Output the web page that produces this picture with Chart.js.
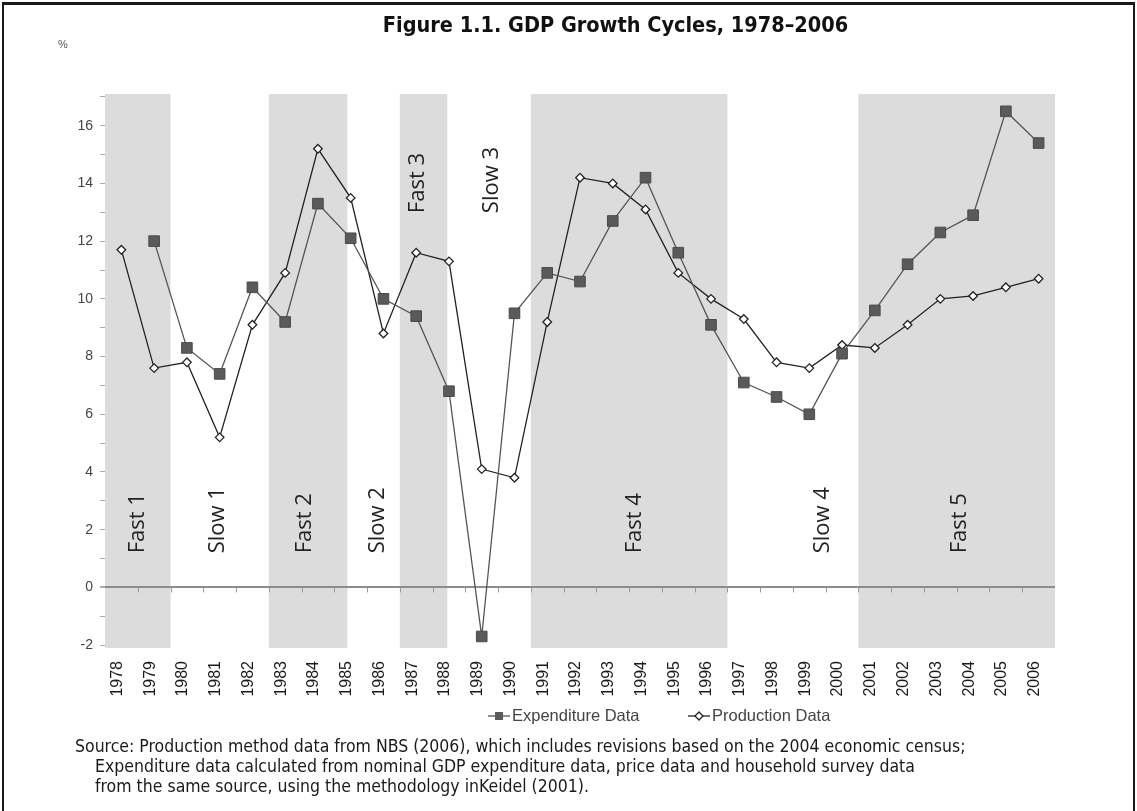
<!DOCTYPE html>
<html>
<head>
<meta charset="utf-8">
<script src="https://cdn.jsdelivr.net/npm/chart.js@4.4.1/dist/chart.umd.min.js"></script>
<style>
  body { margin: 0; background: #fff; width: 1137px; height: 811px; overflow: hidden; position: relative;
         font-family: "Liberation Sans Narrow", "DejaVu Sans Condensed", sans-serif; }
  #frame { position: absolute; left: 2px; top: 2px; width: 1129px; height: 900px;
           border: solid #1a1a1a; border-width: 3px 2px 0 2px; }
  #title { position: absolute; left: 47px; width: 1137px; top: 12px; text-align: center;
           font-weight: bold; font-size: 21.5px; color: #111; }
  #pct { position: absolute; left: 58px; top: 38px; font-size: 11px; color: #555;
         font-family: "Liberation Sans", sans-serif; }
  #chart { position: absolute; left: 0; top: 0; }
  #legend { position: absolute; top: 706px; left: 0; width: 1137px; height: 22px;
            font-family: "Liberation Sans", sans-serif; font-size: 16.5px; color: #444; }
  #legend .item { position: absolute; top: 0; white-space: nowrap; }
  #legend canvas { vertical-align: -1px; margin-right: 2px; }
  #source { position: absolute; left: 75px; top: 736px; font-size: 17.5px; line-height: 20px; color: #1a1a1a; white-space: nowrap; }
  #source .ind { padding-left: 20px; }
</style>
</head>
<body>
<div id="frame"></div>
<canvas id="chart" width="1137" height="811"></canvas>
<div id="title">Figure 1.1. GDP Growth Cycles, 1978–2006</div>
<div id="pct">%</div>
<div id="legend"></div>
<div id="source">
  <div>Source: Production method data from NBS (2006), which includes revisions based on the 2004 economic census;</div>
  <div class="ind">Expenditure data calculated from nominal GDP expenditure data, price data and household survey data</div>
  <div class="ind">from the same source, using the methodology inKeidel (2001).</div>
</div>
<script>
const years = ['1978', '1979', '1980', '1981', '1982', '1983', '1984', '1985', '1986', '1987',
  '1988', '1989', '1990', '1991', '1992', '1993', '1994', '1995', '1996', '1997',
  '1998', '1999', '2000', '2001', '2002', '2003', '2004', '2005', '2006'];

const expenditure = [null, 12.0, 8.3, 7.4, 10.4, 9.2, 13.3, 12.1, 10.0, 9.4,
  6.8, -1.7, 9.5, 10.9, 10.6, 12.7, 14.2, 11.6, 9.1, 7.1,
  6.6, 6.0, 8.1, 9.6, 11.2, 12.3, 12.9, 16.5, 15.4];

const production = [11.7, 7.6, 7.8, 5.2, 9.1, 10.9, 15.2, 13.5, 8.8, 11.6,
  11.3, 4.1, 3.8, 9.2, 14.2, 14.0, 13.1, 10.9, 10.0, 9.3,
  7.8, 7.6, 8.4, 8.3, 9.1, 10.0, 10.1, 10.4, 10.7];

// growth phases, in category units (shaded = fast)
const shadeFrom = [-0.5, 4.5, 8.5, 12.5, 22.5];
const shadeTo = [1.5, 6.9, 9.95, 18.5, 28.5];
const phaseNames = ['Fast 1', 'Slow 1', 'Fast 2', 'Slow 2', 'Fast 3', 'Slow 3', 'Fast 4', 'Slow 4', 'Fast 5'];
const phaseX = [0.5, 2.93, 5.61, 7.84, 9.06, 11.32, 15.68, 21.42, 25.6];
const phaseY = [1.18, 1.18, 1.18, 1.18, 12.97, 12.97, 1.18, 1.18, 1.18];

function legendIcon(style) {
  const c = document.createElement('canvas');
  c.width = 22; c.height = 12;
  const g = c.getContext('2d');
  g.strokeStyle = style === 'rect' ? '#555' : '#222';
  g.lineWidth = 1.3;
  g.beginPath(); g.moveTo(0, 6); g.lineTo(22, 6); g.stroke();
  if (style === 'rect') {
    g.fillStyle = '#5a5a5a';
    g.fillRect(7, 2, 8, 8);
  } else {
    g.fillStyle = '#fff';
    g.beginPath(); g.moveTo(11, 2); g.lineTo(15, 6); g.lineTo(11, 10); g.lineTo(7, 6); g.closePath();
    g.fill(); g.stroke();
  }
  return c;
}

const phases = {
  id: 'phases',
  beforeDraw(chart) {
    const {ctx, chartArea: a, scales: {x, y}} = chart;
    ctx.save();
    ctx.fillStyle = '#dcdcdc';
    shadeFrom.forEach((f, k) => {
      const l = x.getPixelForValue(f), r = x.getPixelForValue(shadeTo[k]);
      ctx.fillRect(l, a.top, r - l, a.bottom - a.top);
    });
    ctx.font = '22px "Open Sans"';
    ctx.fillStyle = '#222';
    ctx.textAlign = 'left';
    ctx.textBaseline = 'middle';
    phaseNames.forEach((t, k) => {
      ctx.save();
      ctx.translate(x.getPixelForValue(phaseX[k]), y.getPixelForValue(phaseY[k]));
      ctx.rotate(-Math.PI / 2);
      ctx.fillText(t, 0, 0);
      ctx.restore();
    });
    ctx.restore();
  },
  beforeDatasetsDraw(chart) {
    // small tick marks hanging under the zero line
    const {ctx, scales: {x, y}} = chart;
    const y0 = y.getPixelForValue(0);
    ctx.save();
    ctx.strokeStyle = '#9a9a9a';
    ctx.lineWidth = 1;
    for (let i = 1; i < years.length; i++) {
      const px = Math.round(x.getPixelForValue(i - 0.5)) + 0.5;
      ctx.beginPath(); ctx.moveTo(px, y0); ctx.lineTo(px, y0 + 5); ctx.stroke();
    }
    ctx.restore();
  }
};

const data = {
  labels: years,
  datasets: [{
    label: 'Expenditure Data',
    data: expenditure,
    borderColor: '#555',
    borderWidth: 1.3,
    pointStyle: 'rect',
    pointRadius: 7.5,
    pointBackgroundColor: '#5a5a5a',
    pointBorderColor: '#4a4a4a',
    pointBorderWidth: 1,
    tension: 0
  }, {
    label: 'Production Data',
    data: production,
    borderColor: '#222',
    borderWidth: 1.3,
    pointStyle: 'rectRot',
    pointRadius: 4.3,
    pointBackgroundColor: '#fff',
    pointBorderColor: '#222',
    pointBorderWidth: 1.3,
    tension: 0
  }]
};

const config = {
  type: 'line',
  data: data,
  options: {
    responsive: false,
    animation: false,
    devicePixelRatio: 1,
    layout: { padding: { left: 45, right: 82, top: 94, bottom: 111 } },
    plugins: {
      title: { display: false },
      tooltip: { enabled: false },
      legend: { display: false }
    },
    scales: {
      x: {
        offset: true,
        grid: { display: false },
        border: { display: false },
        afterFit(scale) { scale.height = 52; },
        ticks: {
          autoSkip: false,
          minRotation: 90,
          maxRotation: 90,
          labelOffset: -4,
          padding: 5,
          color: '#1a1a1a',
          font: { family: 'Liberation Sans', size: 16 }
        }
      },
      y: {
        min: -2.1,
        max: 17.1,
        border: { display: false },
        afterFit(scale) { scale.width = 60; },
        grid: {
          color: (c) => c.tick && c.tick.value === 0 ? '#8c8c8c' : 'rgba(0,0,0,0)',
          lineWidth: (c) => c.tick && c.tick.value === 0 ? 2 : 1,
          tickColor: '#aaa',
          tickLength: 5
        },
        ticks: {
          stepSize: 1,
          includeBounds: false,
          padding: 7,
          color: '#444',
          font: { family: 'Liberation Sans', size: 14 },
          callback: (v) => (v % 2 === 0 ? String(v) : '')
        }
      }
    }
  },
  plugins: [phases]
};

const myChart = new Chart(document.getElementById('chart'), config);

// legend built from the chart's own datasets
const legendLeft = [488, 688];
const legendBox = document.getElementById('legend');
myChart.data.datasets.forEach((ds, k) => {
  const item = document.createElement('span');
  item.className = 'item';
  item.style.left = legendLeft[k] + 'px';
  item.appendChild(legendIcon(ds.pointStyle));
  item.appendChild(document.createTextNode(ds.label));
  legendBox.appendChild(item);
});
</script>
</body>
</html>
